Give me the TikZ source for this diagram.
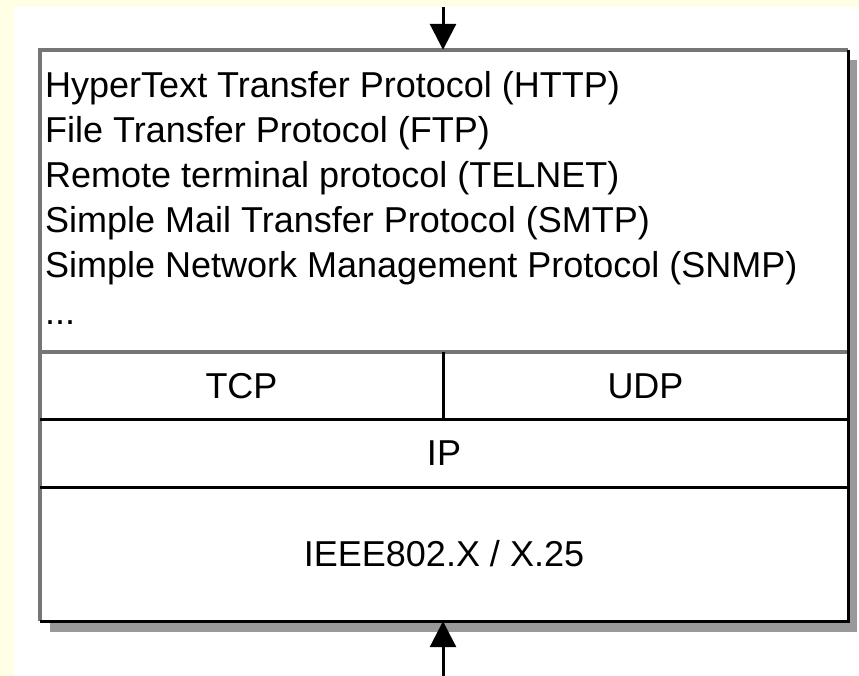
\documentclass[tikz,border=0pt]{standalone}
\usepackage{fontspec}
\setmainfont{Liberation Sans}
\usetikzlibrary{arrows.meta}
\definecolor{pagebg}{RGB}{255,255,230}
\definecolor{edgegray}{RGB}{118,118,118}
\definecolor{shadowgray}{RGB}{153,153,153}
\tikzset{
  cell/.style={draw=none, fill=white, inner sep=0pt, text height=25pt, text depth=0pt,
    font=\fontsize{36}{43}\selectfont},
  proto/.style={anchor=base west, inner sep=0pt, font=\fontsize{36}{43}\selectfont},
  lightedge/.style={edgegray, line width=4pt},
  darkedge/.style={black, line width=3pt},
  flow/.style={black, line width=3pt, -{Triangle[width=26pt,length=26pt]}},
}
\begin{document}
\begin{tikzpicture}[x=1pt,y=-1pt]
  % page and canvas
  \fill[pagebg] (0,0) rectangle (859,676);
  \fill[white] (14,7) rectangle (859,676);
  \useasboundingbox (0,0) rectangle (859,676);
  % drop shadow of the protocol stack
  \fill[shadowgray] (50,60) rectangle (857,632);
  % layers
  \node[cell, minimum width=808pt, minimum height=302pt] (app) at (444,201) {};
  \node[cell, minimum width=403pt, minimum height=67pt] (tcp) at (241.5,385.5) {TCP};
  \node[cell, minimum width=405pt, minimum height=67pt] (udp) at (645.5,385.5) {UDP};
  \node[cell, minimum width=808pt, minimum height=68pt] (ip) at (444,453) {IP};
  \node[cell, minimum width=808pt, minimum height=134pt] (link) at (444,554) {IEEE802.X / X.25};
  % application protocols
  \node[proto] (http) at (45,98) {HyperText Transfer Protocol (HTTP)};
  \node[proto] (ftp) at (45,143) {File Transfer Protocol (FTP)};
  \node[proto] (telnet) at (45,188) {Remote terminal protocol (TELNET)};
  \node[proto] (smtp) at (45,233) {Simple Mail Transfer Protocol (SMTP)};
  \node[proto] (snmp) at (45,278) {Simple Network Management Protocol (SNMP)};
  \node[proto] (more) at (45,324) {...};
  % raised borders: light top/left, dark bottom/right
  \draw[lightedge] (link.south west) -- (app.north west) -- (app.north east);
  \draw[lightedge] (tcp.north west) -- (udp.north east);
  \draw[darkedge] (app.north east) -- (link.south east) -- (link.south west);
  \draw[darkedge] (tcp.south west) -- (udp.south east);
  \draw[darkedge] (ip.south west) -- (ip.south east);
  \draw[darkedge] (tcp.north east) -- (tcp.south east);
  % data flow in and out
  \coordinate (in) at (443,7);
  \coordinate (out) at (443,676);
  \draw[flow] (in) -- (in |- app.north);
  \draw[flow] (out) -- (out |- link.south);
\end{tikzpicture}
\end{document}
